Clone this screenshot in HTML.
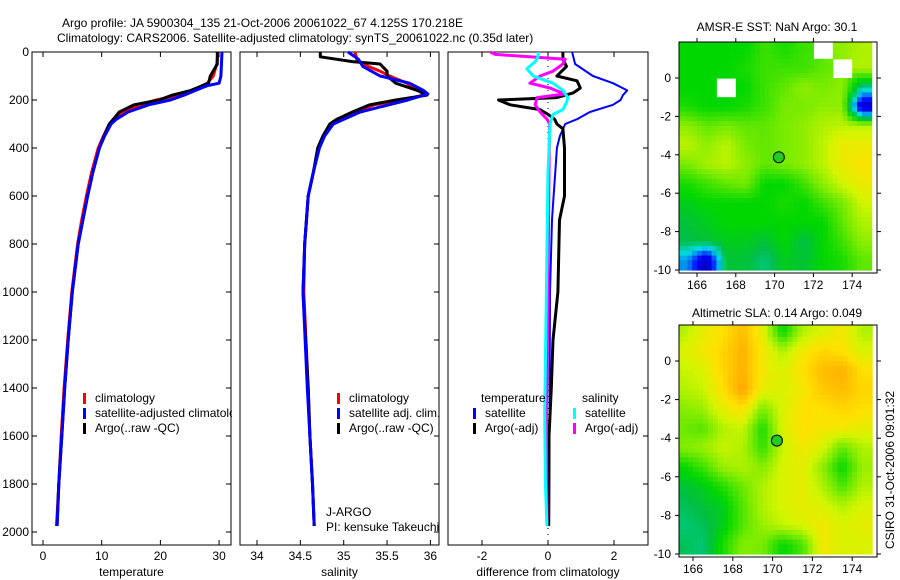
<!DOCTYPE html>
<html><head><meta charset="utf-8"><style>
body{margin:0;background:#fff;}
svg{display:block;font-family:"Liberation Sans",sans-serif;font-size:12px;}
</style></head><body>
<svg id="c" width="900" height="580" viewBox="0 0 900 580" xmlns="http://www.w3.org/2000/svg">
<text x="62" y="27">Argo profile: JA 5900304_135 21-Oct-2006 20061022_67 4.125S 170.218E</text>
<text x="57" y="42">Climatology: CARS2006. Satellite-adjusted climatology: synTS_20061022.nc (0.35d later)</text>
<g id="maps"></g>
<g id="panels"></g>
<text x="777" y="31" text-anchor="middle">AMSR-E SST: NaN Argo: 30.1</text>
<text x="777" y="317" text-anchor="middle">Altimetric SLA: 0.14 Argo: 0.049</text>
<text transform="translate(894,470) rotate(-90)" text-anchor="middle">CSIRO 31-Oct-2006 09:01:32</text>
</svg>
<script>
const NS="http://www.w3.org/2000/svg";
const svg=document.getElementById('c');
function mk(tag,attrs,parent){const e=document.createElementNS(NS,tag);for(const k in attrs)e.setAttribute(k,attrs[k]);(parent||svg).appendChild(e);return e;}

// ---------- data ----------
const depthTicks=[0,200,400,600,800,1000,1200,1400,1600,1800,2000];
const tempTicks=[0,10,20,30];
const salTicks=[34,34.5,35,35.5,36];
const diffTicks=[-2,0,2];

const tClimDepth=[0,50,100,130,160,180,200,220,250,280,300,350,400,500,600,700,800,1000,1200,1400,1600,1800,1975];
const tClim=[29.8,29.6,29,28,25.5,23,19.3,16.5,13.5,12,11.3,10.3,9.4,8.3,7.4,6.6,5.9,4.9,4.2,3.6,3.1,2.7,2.3];
const tSatDepth=[0,100,130,140,160,180,200,220,250,280,300,350,400,500,600,700,800,1000,1200,1400,1600,1800,1975];
const tSat=[30.5,30.3,30,28,26,24,21.7,18,14.5,12.5,11.6,10.5,9.6,8.5,7.6,6.8,6.0,5.0,4.3,3.7,3.2,2.7,2.4];
const tArgoDepth=[0,50,100,130,160,180,200,220,250,280,300,350,400,500,600,700,800,1000,1200,1400,1600,1800,1975];
const tArgo=[29.7,29.7,28.5,28.2,25.2,22,19.8,15.5,13,12,11.3,10.4,9.6,8.5,7.6,6.8,6.0,5.0,4.3,3.7,3.2,2.7,2.4];

const sClimDepth=[0,30,50,80,100,130,160,175,200,220,250,280,300,350,400,500,600,800,1000,1400,1600,1800,1975];
const sClim=[35.13,35.15,35.22,35.42,35.53,35.73,35.86,35.97,35.68,35.35,35.12,34.94,34.86,34.77,34.71,34.65,34.59,34.55,34.54,34.59,34.61,34.64,34.66];
const sSatDepth=[0,30,60,100,130,160,175,200,250,300,350,400,500,600,800,1000,1400,1600,1800,1975];
const sSat=[35.05,35.17,35.22,35.42,35.76,35.92,35.97,35.74,35.19,34.88,34.78,34.72,34.65,34.59,34.55,34.53,34.58,34.61,34.64,34.66];
const sArgoDepth=[0,20,40,50,80,100,130,160,180,200,220,250,280,300,350,400,500,600,800,1000,1400,1600,1800,1975];
const sArgo=[34.73,34.73,35.1,35.42,35.5,35.5,35.6,35.85,35.96,35.6,35.3,35.1,34.92,34.84,34.76,34.7,34.65,34.59,34.55,34.53,34.59,34.61,34.64,34.66];

const dTSatDepth=[0,50,100,130,160,180,200,220,250,280,300,350,400,500,600,700,1000,1400,1800,1975];
const dTSat=[0.73,0.82,1.36,1.97,2.4,2.27,2.2,1.97,1.27,0.88,0.52,0.36,0.27,0.22,0.17,0.12,0.06,0.05,0.04,0.03];
const dTArgoDepth=[0,30,60,100,120,150,170,190,200,220,240,260,280,300,320,400,500,600,700,1000,1200,1400,1600,1975];
const dTArgo=[0.45,0.45,0.56,0.27,0.88,0.98,0.77,0.27,-1.5,-1.15,-0.24,0,0.2,0.27,0.45,0.5,0.5,0.5,0.35,0.3,0.15,0.1,0.03,0.02];
const dSArgoDepth=[0,10,30,50,80,100,130,150,175,190,220,250,280,300,500,1000,1500,1975];
const dSArgo=[-1.75,-1.6,0.52,0.45,0.15,-0.24,-0.55,0.06,0.5,-0.33,-0.39,-0.24,-0.03,0.05,0.03,0,-0.05,-0.03];
const dSSatDepth=[0,20,40,70,100,130,160,190,210,240,260,300,500,1000,1500,1800,1975];
const dSSat=[-0.3,-0.3,-0.39,-0.64,-0.45,0.15,0.45,0.6,0.56,0.45,0.15,0.06,0,-0.05,-0.1,-0.08,-0.03];

const lonTicks=[166,168,170,172,174];
const latTicks=[0,-2,-4,-6,-8,-10];
const argoLon=170.218, argoLat=-4.125;
// gridded map values (rows lat 2→-10, cols lon 165→175), null = missing
const sstGrid=[
[.5,.5,.5,.5,.55,.52,.55,null,.62,.65],
[.5,.5,.5,.52,.55,.55,.55,.58,null,.65],
[.5,.5,null,.5,.55,.58,.62,.6,.62,.4],
[.52,.5,.5,.52,.55,.6,.6,.62,.62,.1],
[.62,.58,.6,.58,.58,.6,.62,.65,.66,.66],
[.66,.62,.66,.6,.58,.6,.62,.66,.72,.72],
[.6,.64,.66,.62,.58,.6,.62,.66,.72,.74],
[.52,.55,.58,.6,.5,.5,.55,.62,.68,.72],
[.48,.5,.5,.5,.5,.52,.5,.55,.6,.68],
[.46,.48,.5,.5,.5,.5,.5,.5,.58,.65],
[.45,.46,.48,.48,.46,.5,.45,.5,.55,.62],
[.3,.1,.46,.46,.42,.48,.46,.5,.52,.58]];
const slaGrid=[
[.65,.71,.75,.81,.71,.5,.65,.69,.73,.65],
[.69,.73,.77,.83,.73,.65,.73,.77,.75,.69],
[.67,.69,.77,.83,.73,.69,.75,.81,.83,.75],
[.65,.67,.75,.85,.71,.69,.73,.79,.81,.77],
[.61,.63,.71,.75,.6,.69,.75,.75,.77,.75],
[.59,.57,.65,.67,.52,.69,.75,.73,.73,.71],
[.61,.63,.67,.65,.54,.67,.73,.69,.58,.65],
[.5,.55,.63,.65,.61,.69,.71,.62,.5,.63],
[.46,.48,.53,.59,.65,.69,.71,.65,.56,.65],
[.44,.46,.48,.57,.65,.69,.71,.69,.65,.69],
[.42,.44,.48,.57,.63,.67,.69,.73,.69,.71],
[.44,.42,.52,.61,.6,.5,.56,.73,.69,.69]];

// ---------- profile panels ----------
const Y0=52, YS=0.24, PT=52, PB=545;
const yD=d=>Y0+d*YS;
const panels=[
 {name:'temperature',x0:32,x1:231,sx:v=>43+v*5.87,ticks:tempTicks,title:'temperature'},
 {name:'salinity',x0:240,x1:439,sx:v=>257+(v-34)*86.7,ticks:salTicks,title:'salinity'},
 {name:'difference',x0:448,x1:648,sx:v=>548+v*33,ticks:diffTicks,title:'difference from climatology'}
];
const pg=document.getElementById('panels');
function line(g,p,ds,vs,color,w,name){
  let d='';
  for(let i=0;i<ds.length;i++){d+=(i?'L':'M')+p.sx(vs[i]).toFixed(1)+','+yD(ds[i]).toFixed(1);}
  const e=mk('path',{d:d,fill:'none',stroke:color,'stroke-width':w,'stroke-linejoin':'round'},g);
  
  
}
panels.forEach((p,i)=>{
  const g=mk('g',{},pg);
  
  
  const bg=mk('rect',{x:p.x0,y:PT,width:p.x1-p.x0,height:PB-PT,fill:'#fff',stroke:'#000','stroke-width':1},g);
  
  
  p.ticks.forEach(t=>{
    const x=p.sx(t);
    mk('line',{x1:x,y1:PT,x2:x,y2:PT+5,stroke:'#000'},g);
    mk('line',{x1:x,y1:PB,x2:x,y2:PB-5,stroke:'#000'},g);
    const tx=mk('text',{x:x,y:PB+15,'text-anchor':'middle'},g);tx.textContent=(t<0?'-':'')+Math.abs(t);
    
    
  });
  depthTicks.forEach(d=>{
    const y=yD(d);
    mk('line',{x1:p.x1,y1:y,x2:p.x1-5,y2:y,stroke:'#000'},g);
    if(i==0){
      mk('line',{x1:p.x0,y1:y,x2:p.x0+5,y2:y,stroke:'#000'},g);
      const tx=mk('text',{x:p.x0-3,y:y+4,'text-anchor':'end'},g);tx.textContent=d;
      
      
    }
  });
  const at=mk('text',{x:(p.x0+p.x1)/2,y:576,'text-anchor':'middle'},g);at.textContent=p.title;
  
  
  p.g=g;
});
const P=panels;
line(P[0].g,P[0],tClimDepth,tClim,'#f00',3,'temp-climatology-line');
line(P[0].g,P[0],tArgoDepth,tArgo,'#000',3,'temp-argo-line');
line(P[0].g,P[0],tSatDepth,tSat,'#00f',3,'temp-satellite-line');
line(P[1].g,P[1],sClimDepth,sClim,'#f00',3,'sal-climatology-line');
line(P[1].g,P[1],sArgoDepth,sArgo,'#000',3,'sal-argo-line');
line(P[1].g,P[1],sSatDepth,sSat,'#00f',3,'sal-satellite-line');
for(let y=PT+2;y<PB;y+=6){mk('rect',{x:547.5,y:y,width:1,height:1,fill:'#000'},P[2].g);}
line(P[2].g,P[2],dTSatDepth,dTSat,'#00f',2,'diff-temp-satellite-line');
line(P[2].g,P[2],dTArgoDepth,dTArgo,'#000',3,'diff-temp-argo-line');
line(P[2].g,P[2],dSArgoDepth,dSArgo,'#f0f',3,'diff-sal-argo-line');
line(P[2].g,P[2],dSSatDepth,dSSat,'#0ff',3,'diff-sal-satellite-line');

function legend(g,x,y,color,label,name){
  if(color)mk('rect',{x:x,y:y-9,width:3,height:11,fill:color},g);
  const t=mk('text',{x:x+(color?12:0),y:y},g);t.textContent=label;
  
  
}
legend(P[0].g,83,402,'#f00','climatology','legend-climatology');
legend(P[0].g,83,417,'#00f','satellite-adjusted climatology','legend-satellite-adjusted');
legend(P[0].g,83,432,'#000','Argo(..raw -QC)','legend-argo');
legend(P[1].g,337,402,'#f00','climatology','legend-climatology');
legend(P[1].g,337,417,'#00f','satellite adj. clim.','legend-satellite-adj');
legend(P[1].g,337,432,'#000','Argo(..raw -QC)','legend-argo');
legend(P[1].g,326,516,null,'J-ARGO','pi-institution');
legend(P[1].g,326,531,null,'PI: kensuke Takeuchi','pi-name');
legend(P[2].g,481,402,null,'temperature','legend-temperature-heading');
legend(P[2].g,473,417,'#00f','satellite','legend-temp-satellite');
legend(P[2].g,473,432,'#000','Argo(-adj)','legend-temp-argo');
legend(P[2].g,582,402,null,'salinity','legend-salinity-heading');
legend(P[2].g,573,417,'#0ff','satellite','legend-sal-satellite');
legend(P[2].g,573,432,'#f0f','Argo(-adj)','legend-sal-argo');
(function(){const r=mk('rect',{x:232,y:395,width:7.5,height:30,fill:'#fff'},pg);})();

// ---------- maps ----------
const stops=[[0,[0,0,128]],[0.2,[0,0,255]],[0.35,[0,220,230]],[0.45,[0,190,70]],[0.5,[0,215,0]],[0.6,[120,235,0]],[0.68,[210,245,0]],[0.75,[255,225,0]],[0.85,[255,165,0]],[1,[255,80,0]]];
function cmap(v){
  for(let i=1;i<stops.length;i++){if(v<=stops[i][0]){const a=stops[i-1],b=stops[i];const f=(v-a[0])/(b[0]-a[0]);const c=a[1].map((x,k)=>Math.round(x+(b[1][k]-x)*f));return 'rgb('+c.join(',')+')';}}
  return 'rgb(255,80,0)';
}
function sample(grid,r,c){
  const R=grid.length,C=grid[0].length;
  const nr=Math.min(R-1,Math.max(0,Math.round(r))),nc=Math.min(C-1,Math.max(0,Math.round(c)));
  if(grid[nr][nc]===null)return null;
  const r0=Math.max(0,Math.min(R-1,Math.floor(r))),c0=Math.max(0,Math.min(C-1,Math.floor(c)));
  const r1=Math.min(R-1,r0+1),c1=Math.min(C-1,c0+1);
  const fr=Math.max(0,Math.min(1,r-r0)),fc=Math.max(0,Math.min(1,c-c0));
  let s=0,w=0;
  [[r0,c0,(1-fr)*(1-fc)],[r0,c1,(1-fr)*fc],[r1,c0,fr*(1-fc)],[r1,c1,fr*fc]].forEach(q=>{const v=grid[q[0]][q[1]];if(v!==null){s+=v*q[2];w+=q[2];}});
  return w>0?s/w:grid[nr][nc];
}
const mg=document.getElementById('maps');
function drawMap(name,grid,box,lon0,lonS,lat0,latS){
  const g=mk('g',{},mg);
  
  
  const X=lon=>lon0+(lon-166)*lonS, Y=lat=>lat0-lat*latS;
  const clip=mk('clipPath',{id:name+'-clip'},g);
  mk('rect',{x:box[0],y:box[1],width:box[2]-box[0],height:box[3]-box[1]},clip);
  const cg=mk('g',{'clip-path':'url(#'+name+'-clip)'},g);
  mk('rect',{x:box[0],y:box[1],width:box[2]-box[0],height:box[3]-box[1],fill:'#fff'},cg);
  const N=4;
  for(let r=0;r<grid.length*N;r++)for(let c=0;c<grid[0].length*N;c++){
    const gr=(r+0.5)/N-0.5, gc=(c+0.5)/N-0.5;
    const v=sample(grid,gr,gc);
    if(v===null)continue;
    const x=X(165+c/N),y=Y(2-r/N);
    const e=mk('rect',{x:x.toFixed(1),y:y.toFixed(1),width:(lonS/N+0.6).toFixed(1),height:(latS/N+0.6).toFixed(1),fill:cmap(v)},cg);
    
    
  }
  mk('rect',{x:box[0],y:box[1],width:box[2]-box[0],height:box[3]-box[1],fill:'none',stroke:'#000'},g);
  lonTicks.forEach(l=>{const x=X(l);
    mk('line',{x1:x,y1:box[1],x2:x,y2:box[1]-4,stroke:'#000'},g);
    mk('line',{x1:x,y1:box[3],x2:x,y2:box[3]+4,stroke:'#000'},g);
    const t=mk('text',{x:x,y:box[3]+16,'text-anchor':'middle'},g);t.textContent=l;
    
    
  });
  latTicks.forEach(l=>{const y=Y(l);
    mk('line',{x1:box[0],y1:y,x2:box[0]-4,y2:y,stroke:'#000'},g);
    mk('line',{x1:box[2],y1:y,x2:box[2]+4,y2:y,stroke:'#000'},g);
    const t=mk('text',{x:box[0]-8,y:y+4,'text-anchor':'end'},g);t.textContent=(l<0?'-':'')+Math.abs(l);
    
    
  });
  const m=mk('circle',{cx:X(argoLon),cy:Y(argoLat),r:5.5,fill:'#22cc22',stroke:'#000','stroke-width':1},g);
  
  
}
drawMap('sst-map',sstGrid,[679,42,877,273],697,19.4,78,19.2);
drawMap('sla-map',slaGrid,[679,325,877,557],693,19.9,361,19.3);
</script>
</body></html>
